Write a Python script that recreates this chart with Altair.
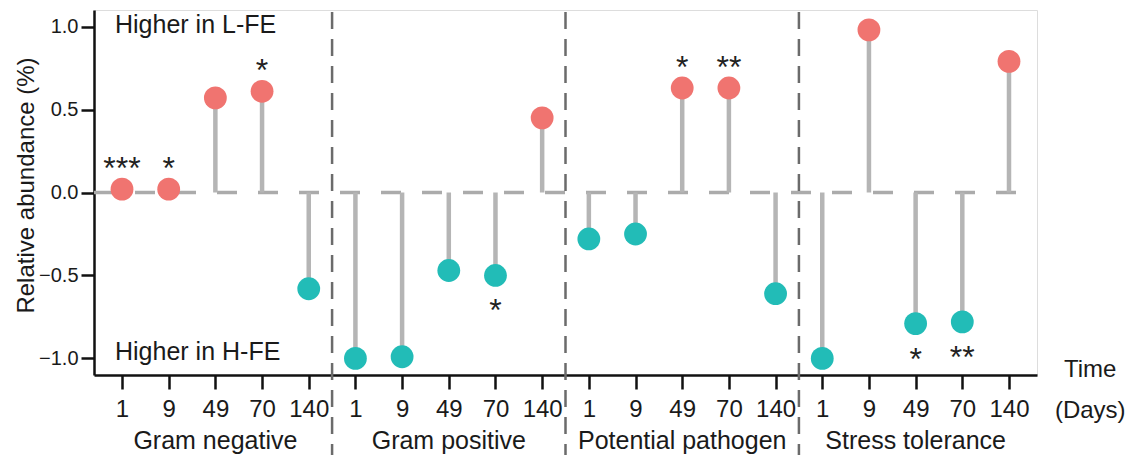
import altair as alt
import pandas as pd

groups = ["Gram negative", "Gram positive", "Potential pathogen", "Stress tolerance"]
days = ["1", "9", "49", "70", "140"]
values = [0.02, 0.02, 0.57, 0.61, -0.58,
          -1.00, -0.99, -0.47, -0.50, 0.45,
          -0.28, -0.25, 0.63, 0.63, -0.61,
          -1.00, 0.98, -0.79, -0.78, 0.79]
stars = ["***", "*", "", "*", "",
         "", "", "", "*", "",
         "", "", "*", "**", "",
         "", "", "*", "**", ""]
y_ticks = [-1.0, -0.5, 0.0, 0.5, 1.0]
region_labels = ["Higher in L-FE", "Higher in H-FE"]
region_y = [1.01, -0.96]

FONT = "Liberation Sans"
RED = "#F07470"
TEAL = "#22BCB7"

rows = []
for gi, g in enumerate(groups):
    for di, d in enumerate(days):
        i = gi * 5 + di
        rows.append(dict(pos=i, group=g, day=d, value=values[i], star=stars[i],
                         sign="L-FE" if values[i] > 0 else "H-FE", zero=0.0))
df = pd.DataFrame(rows)

xscale = alt.Scale(domain=[-0.6, 19.6], nice=False, zero=False)
yscale = alt.Scale(domain=[-1.1, 1.1], nice=False, zero=False)

label_expr = "[" + ",".join("'%s'" % d for d in days) + "][datum.value % 5]"

x_axis = alt.Axis(values=list(range(len(values))), labelExpr=label_expr, title=None,
                  grid=False, domainColor="#111", domainWidth=2.5, tickColor="#111",
                  tickWidth=2.5, tickSize=14, labelFont=FONT, labelFontSize=24,
                  labelColor="#1a1a1a", labelPadding=8)
y_axis = alt.Axis(values=y_ticks, format=".1f", title="Relative abundance (%)", grid=False,
                  domainColor="#111", domainWidth=2.5, tickColor="#111", tickWidth=2.5,
                  tickSize=13, labelFont=FONT, labelFontSize=20, labelColor="#1a1a1a",
                  labelPadding=3, titleFont=FONT, titleFontSize=24, titleFontWeight="normal",
                  titleColor="#1a1a1a", titleX=-61, titleY=175, titleAngle=270,
                  titleBaseline="alphabetic", titleAlign="center")

base = alt.Chart(df)

zero_df = pd.DataFrame({"x": [-0.6], "x2": [19.45], "y": [0.0]})
zero_line = alt.Chart(zero_df).mark_rule(color="#ababab", strokeWidth=3.5, strokeDash=[20, 21]).encode(
    x=alt.X("x:Q", scale=xscale, axis=x_axis), x2="x2:Q",
    y=alt.Y("y:Q", scale=yscale, axis=y_axis))

sep_df = pd.DataFrame({"x": [4.5, 9.5, 14.5]})
seps = alt.Chart(sep_df).mark_rule(color="#6b6b6b", strokeWidth=2.5, strokeDash=[17, 10]).encode(
    x=alt.X("x:Q", scale=xscale), y=alt.value(2), y2=alt.value(448))

stems = base.mark_rule(color="#b5b5b5", strokeWidth=4.5).encode(
    x=alt.X("pos:Q", scale=xscale), y=alt.Y("value:Q", scale=yscale), y2="zero:Q")

dots = base.mark_circle(size=520, opacity=1).encode(
    x=alt.X("pos:Q", scale=xscale), y=alt.Y("value:Q", scale=yscale),
    color=alt.Color("sign:N", scale=alt.Scale(domain=["L-FE", "H-FE"], range=[RED, TEAL]), legend=None))

stars_up = base.transform_filter("datum.value > 0 && datum.star != ''").mark_text(
    font=FONT, fontSize=32, color="#222", dy=-20, baseline="middle").encode(
    x=alt.X("pos:Q", scale=xscale), y=alt.Y("value:Q", scale=yscale), text="star:N")
stars_dn = base.transform_filter("datum.value < 0 && datum.star != ''").mark_text(
    font=FONT, fontSize=32, color="#222", dy=36, baseline="middle").encode(
    x=alt.X("pos:Q", scale=xscale), y=alt.Y("value:Q", scale=yscale), text="star:N")

reg_df = pd.DataFrame({"label": region_labels, "y": region_y, "x": [-0.15, -0.15]})
regions = alt.Chart(reg_df).mark_text(font=FONT, fontSize=25, color="#1a1a1a", align="left",
                                      baseline="middle").encode(
    x=alt.X("x:Q", scale=xscale), y=alt.Y("y:Q", scale=yscale), text="label:N")

grp_df = pd.DataFrame({"label": groups, "x": [2, 7, 12, 17]})
grp_labels = alt.Chart(grp_df).mark_text(font=FONT, fontSize=25, color="#1a1a1a",
                                         baseline="middle").encode(
    x=alt.X("x:Q", scale=xscale), y=alt.value(431), text="label:N")

time_df = pd.DataFrame({"label": ["Time", "(Days)"], "x": [20.74, 20.74], "yp": [360, 401]})
time_lbl = alt.Chart(time_df).mark_text(font=FONT, fontSize=24, color="#1a1a1a",
                                        baseline="middle").encode(
    x=alt.X("x:Q", scale=xscale), y=alt.Y("yp:Q", scale=None), text="label:N")

chart = alt.layer(zero_line, seps, stems, dots, stars_up, stars_dn, regions, grp_labels, time_lbl).properties(
    width=943, height=365, autosize="none",
    padding={"left": 86, "top": 2, "right": 90, "bottom": 80}
).configure_view(stroke=None).configure(background="white")

chart.save("out.html", embed_options={"renderer": "svg", "actions": False})
